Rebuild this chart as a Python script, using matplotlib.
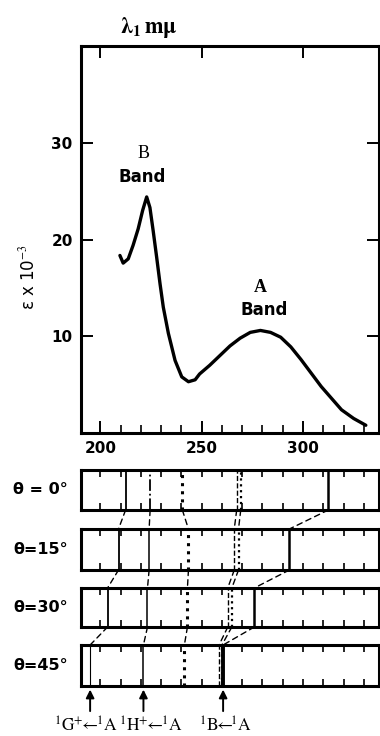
import numpy as np
import matplotlib
matplotlib.use('Agg')
import matplotlib.pyplot as plt
from matplotlib.patches import ConnectionPatch

plt.rcParams['font.family'] = ['DejaVu Sans']
plt.rcParams['mathtext.fontset'] = 'stix'

# absorption curve (wavelength in m-mu, epsilon x 1e-3)
wl = [209.7, 211.3, 213.8, 216.2, 218.7, 220.9, 222.9, 224.5, 226.1, 227.8, 229.5,
      231.1, 233.6, 236.9, 240.2, 243.5, 246.8, 249, 254, 259, 264, 269, 274, 279,
      284, 289, 294, 299, 304, 309, 314, 319, 325, 331]
eps = [18.35, 17.56, 18.0, 19.4, 21.1, 23.0, 24.4, 23.3, 20.9, 18.2, 15.4,
       13.0, 10.3, 7.5, 5.8, 5.3, 5.5, 6.1, 7.0, 8.0, 9.0, 9.8, 10.4, 10.6,
       10.4, 9.9, 8.9, 7.6, 6.2, 4.8, 3.6, 2.4, 1.5, 0.8]

# transition positions for each tilt angle
theta_labels = ['θ = 0°', 'θ=15°', 'θ=30°', 'θ=45°']
G_pos = [212.5, 209.0, 203.6, 195.0]
H_pos = [224.6, 224.1, 223.3, 221.3]
dot_pos = [240.5, 243.5, 243.0, 241.5]
dbl1_pos = [267.3, 266.1, 262.9, 258.6]
dbl2_pos = [269.3, 268.2, 264.9, 260.0]
B_pos = [312.5, 293.3, 276.0, 260.6]
arrow_pos = [195.0, 221.3, 260.6]
arrow_labels = [r'$^1\mathrm{G}^{+}\!\!\leftarrow\!\!{}^1\mathrm{A}$',
                r'$^1\mathrm{H}^{+}\!\!\leftarrow\!\!{}^1\mathrm{A}$',
                r'$^1\mathrm{B}\!\!\leftarrow\!\!{}^1\mathrm{A}$']
label_x = [192.9, 225.0, 261.6]

W, H = 380, 736
fig = plt.figure(figsize=(3.8, 7.36), dpi=100)
xlim = (190.5, 337.5)

def box(top, bottom, left=81, right=379):
    return [left / W, 1 - bottom / H, (right - left) / W, (bottom - top) / H]

ax = fig.add_axes(box(46, 433))
ax.plot(wl, eps, color='black', lw=2.4, solid_joinstyle='round', solid_capstyle='round')
ax.set_xlim(*xlim)
ax.set_ylim(0, 40)
ax.set_xticks([200, 250, 300])
ax.set_xticks(range(200, 340, 10), minor=True)
ax.set_yticks([10, 20, 30])
for s in ax.spines.values():
    s.set_linewidth(2.2)
ax.tick_params(which='major', direction='in', length=8.5, width=1.4,
               top=True, right=True, labelsize=11, pad=6)
ax.tick_params(which='minor', direction='in', length=5.5, width=1.2,
               top=False, bottom=True)
for lab in ax.get_xticklabels() + ax.get_yticklabels():
    lab.set_fontweight('bold')

ax.text(221.3, 28.9, 'B', family='Liberation Serif', fontsize=13, ha='center', va='center')
ax.text(220.8, 26.5, 'Band', fontsize=12, fontweight='bold', ha='center', va='center')
ax.text(279.2, 15.0, 'A', family='Liberation Serif', fontsize=13, fontweight='bold',
        ha='center', va='center')
ax.text(281.0, 12.7, 'Band', fontsize=12, fontweight='bold', ha='center', va='center')

fig.text(28 / W, 1 - 277 / H, r'ε x 10$^{-3}$', rotation=90, fontsize=12,
         ha='center', va='center')
fig.text(149 / W, 1 - 28 / H, r'$\mathbf{\lambda_1\,m\mu}$', fontsize=16,
         ha='center', va='center')

tops = [470, 529, 588, 645]
bottoms = [510, 570, 627, 686]
strips = []
for i in range(4):
    a = fig.add_axes(box(tops[i], bottoms[i]))
    a.set_xlim(*xlim)
    a.set_ylim(0, 1)
    a.set_yticks([])
    a.set_xticks(range(200, 340, 10))
    a.tick_params(direction='in', length=5, width=1.2, top=True, labelbottom=False)
    for s in a.spines.values():
        s.set_linewidth(2.2)
    a.text(-0.045, 0.5, theta_labels[i], transform=a.transAxes, ha='right',
           va='center', fontsize=11.5, fontweight='bold')
    strips.append(a)

g_style = [('-', 1.3), ('-', 1.3), ('-', 1.3), ('-', 0.8)]
h_style = [('-.', 1.3), ('-', 1.1), ('-', 1.1), ('-', 1.1)]
series = [
    (G_pos, g_style),
    (H_pos, h_style),
    (dot_pos, [(':', 2.2)] * 4),
    (dbl1_pos, [('--', 1.0)] * 4),
    (dbl2_pos, [(':', 1.6)] * 4),
    (B_pos, [('-', 1.8), ('-', 1.8), ('-', 1.8), ('-', 2.8)]),
]
for pos, styles in series:
    for i, a in enumerate(strips):
        ls, lw = styles[i]
        a.axvline(pos[i], color='black', ls=ls, lw=lw)
        if i < 3:
            con = ConnectionPatch(xyA=(pos[i], 0), coordsA='data', axesA=a,
                                  xyB=(pos[i + 1], 1), coordsB='data', axesB=strips[i + 1],
                                  color='black', ls=(0, (4, 3)), lw=1.0)
            fig.add_artist(con)

last = strips[-1]
for x0, lab, lx in zip(arrow_pos, arrow_labels, label_x):
    last.annotate('', xy=(x0, -0.02), xycoords=('data', 'axes fraction'),
                  xytext=(x0, -0.68), textcoords=('data', 'axes fraction'),
                  arrowprops=dict(arrowstyle='-|>', color='black', lw=1.4,
                                  mutation_scale=12))
    last.text(lx, -0.98, lab, transform=last.get_xaxis_transform(), ha='center',
              va='center', fontsize=12.5)

fig.savefig('out.png', dpi=100)
